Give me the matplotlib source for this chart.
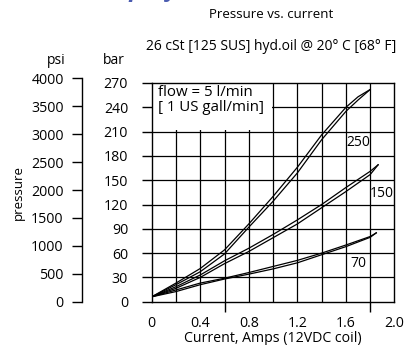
import matplotlib
matplotlib.use("Agg")
import matplotlib.pyplot as plt
from matplotlib.patches import Rectangle

plt.rcParams['font.family'] = ['Open Sans', 'DejaVu Sans']
FS = 9.5

# ---------- dados (bar x A) ----------
cur_250 = [0, 0.2, 0.4, 0.6, 0.8, 1.0, 1.2, 1.4, 1.6, 1.7, 1.8]
p250_up = [6, 23, 41, 64, 96, 130, 166, 206, 240, 253, 262]
p250_dn = [6, 21, 37, 59, 92, 124, 159, 200, 235, 249, 262]

cur_150 = [0, 0.2, 0.4, 0.6, 0.8, 1.0, 1.2, 1.4, 1.6, 1.8, 1.865]
p150_up = [6, 18.5, 33, 50.5, 66, 83, 101, 120, 141, 161, 169]
p150_dn = [6, 16.5, 30, 47, 62, 79, 96, 116, 136, 157, 169]

cur_70 = [0, 0.2, 0.4, 0.6, 0.8, 1.0, 1.2, 1.4, 1.6, 1.8, 1.85]
p70_up = [6, 14.5, 23, 29, 36, 43.5, 51, 60, 70, 80.5, 85]
p70_dn = [6, 12.5, 21, 28, 34, 40.5, 48, 58, 68, 79.5, 85]

curve_labels = ["250", "150", "70"]
label_pos = [(1.70, 196), (1.895, 134), (1.705, 47)]

bar_ticks = [0, 30, 60, 90, 120, 150, 180, 210, 240, 270]
psi_ticks = [0, 500, 1000, 1500, 2000, 2500, 3000, 3500, 4000]
x_labels = [0, 0.4, 0.8, 1.2, 1.6, 2.0]
x_marks = [0, 0.6, 1.2, 1.8, 2.0]
PSI_PER_BAR = 14.5038

W, H = 404, 345
fig = plt.figure(figsize=(W / 100, H / 100), dpi=100)

x0, x1, y0, y1 = 151.7, 394.5, 301.7, 83.0
ax = fig.add_axes([x0 / W, 1 - y0 / H, (x1 - x0) / W, (y0 - y1) / H])
ax.set_xlim(0, 2.0)
ax.set_ylim(0, 270)

# grade
for gx in [0.2 * i for i in range(1, 10)]:
    ax.axvline(gx, color="black", lw=0.9, zorder=1)
for gy in bar_ticks[1:-1]:
    ax.axhline(gy, color="black", lw=0.9, zorder=1)
ax.add_patch(Rectangle((0.008, 211.5), 0.985, 57.5, facecolor="white",
                       edgecolor="none", zorder=1.5))
ax.text(0.055, 267, "flow = 5 l/min\n[ 1 US gall/min]", fontsize=10.8, va="top",
        ha="left", linespacing=1.0, zorder=4)

for spine in ax.spines.values():
    spine.set_linewidth(1.0)

# curvas (histerese: duas linhas por curva)
for cx, up, dn in [(cur_250, p250_up, p250_dn), (cur_150, p150_up, p150_dn),
                   (cur_70, p70_up, p70_dn)]:
    ax.plot(cx, up, color="black", lw=0.9, zorder=3)
    ax.plot(cx, dn, color="black", lw=0.9, zorder=3)

for txt, (lx, ly) in zip(curve_labels, label_pos):
    ax.text(lx, ly, txt, fontsize=10, ha="center", va="center", zorder=4)

ax.set_yticks(bar_ticks)
ax.tick_params(axis="y", direction="out", length=7, width=1.0, pad=10, labelsize=10.2)
ax.set_xticks(x_labels)
ax.set_xticklabels(["0", "0.4", "0.8", "1.2", "1.6", "2.0"])
ax.tick_params(axis="x", which="major", length=0, pad=10, labelsize=10.2)
ax.set_xticks(x_marks, minor=True)
ax.tick_params(axis="x", which="minor", direction="out", length=7, width=1.0)
ax.set_xlabel("Current, Amps (12VDC coil)", fontsize=10.2, labelpad=0)

# eixo psi
psi_top_bar = 4000 / PSI_PER_BAR
h_main = (y0 - y1) / H
ax2 = fig.add_axes([81.7 / W, 1 - y0 / H, 0.0001, h_main * psi_top_bar / 270])
ax2.set_ylim(0, 4000)
ax2.patch.set_visible(False)
for s in ["top", "right", "bottom"]:
    ax2.spines[s].set_visible(False)
ax2.spines["left"].set_linewidth(1.0)
ax2.set_xticks([])
ax2.set_yticks(psi_ticks)
ax2.tick_params(axis="y", direction="out", length=7, width=1.0, pad=6, labelsize=10.2)

fig.text(56 / W, 1 - 61 / H, "psi", fontsize=10, ha="center", va="center")
fig.text(113.5 / W, 1 - 61 / H, "bar", fontsize=10, ha="center", va="center")
fig.text(18 / W, 1 - 192 / H, "pressure", fontsize=FS, ha="center", va="center",
         rotation=90)
fig.text(271 / W, 1 - 15 / H, "Pressure vs. current", fontsize=FS, ha="center",
         va="center")
fig.text(271 / W, 1 - 47 / H, "26 cSt [125 SUS] hyd.oil @ 20° C [68° F]",
         fontsize=10, ha="center", va="center")
fig.text(52 / W, 1 + 4 / H, "Actual performance", fontsize=17, ha="left",
         va="baseline", color="#4b5cb0", style="italic", fontweight="bold")

fig.savefig("out.png", dpi=100)
